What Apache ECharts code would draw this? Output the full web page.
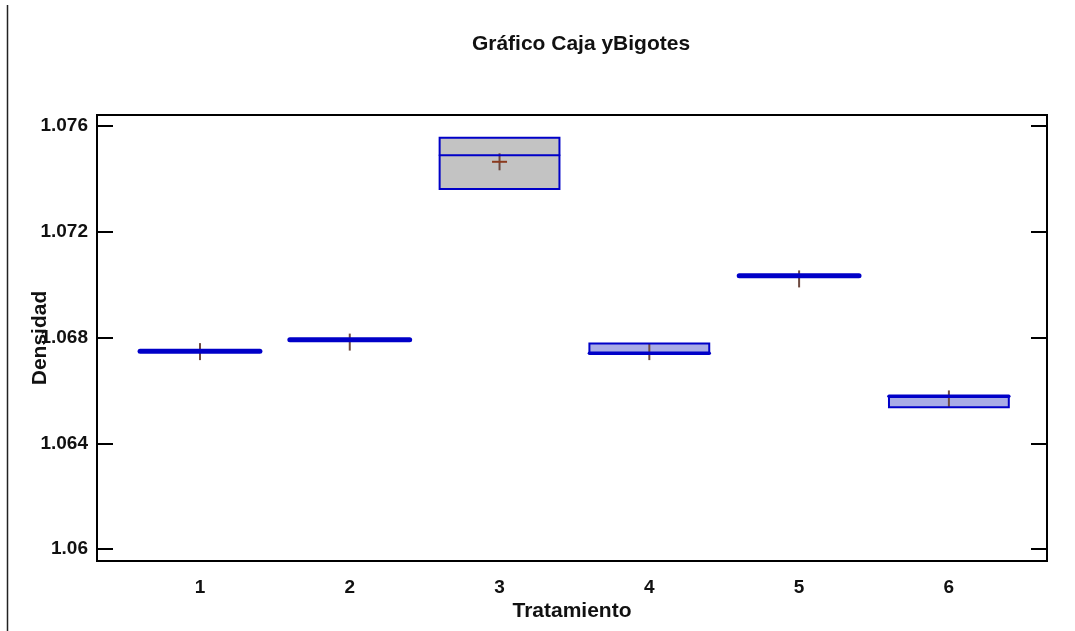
<!DOCTYPE html>
<html>
<head>
<meta charset="utf-8">
<script src="https://cdn.jsdelivr.net/npm/echarts@6/dist/echarts.min.js"></script>
<style>html,body{margin:0;padding:0;background:#fff;}#c{width:1075px;height:631px;}</style>
</head>
<body>
<div id="c"></div>
<script>
// ---- data ----
var categories = [1, 2, 3, 4, 5, 6];
var minValues    = [1.06748, 1.06792, 1.07362, 1.06741, 1.07034, 1.06537];
var q1Values     = [1.06748, 1.06792, 1.07362, 1.06741, 1.07034, 1.06537];
var medianValues = [1.06748, 1.06792, 1.07490, 1.06741, 1.07034, 1.06578];
var q3Values     = [1.06748, 1.06792, 1.07556, 1.06778, 1.07034, 1.06578];
var maxValues    = [1.06748, 1.06792, 1.07556, 1.06778, 1.07034, 1.06578];
var meanValues   = [1.06747, 1.06783, 1.07465, 1.06747, 1.07022, 1.06568];
var yTicks = [1.06, 1.064, 1.068, 1.072, 1.076];
var titleText = 'Gráfico Caja yBigotes';
var xName = 'Tratamiento';
var yName = 'Densidad';

var boxData = categories.map(function (c, i) {
  return [c, minValues[i], q1Values[i], medianValues[i], q3Values[i], maxValues[i], meanValues[i]];
});

var BOX_HALF = 0.4;
var BLUE = '#0000c8';
var FONT = 'Liberation Sans, Arial, sans-serif';

var chart = echarts.init(document.getElementById('c'), null, {renderer: 'canvas'});
chart.setOption({
  animation: false,
  backgroundColor: '#fff',
  title: {
    text: titleText, left: 576, top: 29, textAlign: 'center',
    textStyle: {fontFamily: FONT, fontWeight: 'bold', fontSize: 21, color: '#111'}
  },
  grid: {left: 97, right: 28, top: 115, bottom: 70, show: true, borderColor: '#000', borderWidth: 2, backgroundColor: 'transparent'},
  xAxis: {
    type: 'value', min: 0.3125, max: 6.655,
    name: xName, nameLocation: 'middle', nameGap: 40, nameMoveOverlap: false,
    nameTextStyle: {fontFamily: FONT, fontWeight: 'bold', fontSize: 21, color: '#111'},
    axisLine: {show: true, lineStyle: {color: '#000', width: 2}},
    axisTick: {show: false},
    splitLine: {show: false},
    axisLabel: {customValues: categories, margin: 17, fontFamily: FONT, fontWeight: 'bold', fontSize: 19, color: '#111'}
  },
  yAxis: [{
    type: 'value', min: 1.05955, max: 1.07642,
    name: yName, nameLocation: 'middle', nameGap: 46, nameRotate: 90, nameMoveOverlap: false,
    nameTextStyle: {fontFamily: FONT, fontWeight: 'bold', fontSize: 21, color: '#111'},
    axisLine: {show: true, lineStyle: {color: '#000', width: 2}},
    axisTick: {show: true, inside: true, length: 16, customValues: yTicks, lineStyle: {color: '#000', width: 2}},
    splitLine: {show: false},
    axisLabel: {customValues: yTicks, margin: 9, fontFamily: FONT, fontWeight: 'bold', fontSize: 19, color: '#111',
      formatter: function (v) { return String(+v.toFixed(3)); }}
  }, {
    type: 'value', min: 1.05955, max: 1.07642, position: 'right',
    axisLine: {show: true, lineStyle: {color: '#000', width: 2}},
    axisTick: {show: true, inside: true, length: 16, customValues: yTicks, lineStyle: {color: '#000', width: 2}},
    splitLine: {show: false},
    axisLabel: {show: false}
  }],
  graphic: [{
    type: 'line', shape: {x1: 7.5, y1: 5, x2: 7.5, y2: 631}, style: {stroke: '#222', lineWidth: 1.5}
  }],
  series: [{
    type: 'custom',
    data: boxData,
    renderItem: function (params, api) {
      var x = api.value(0);
      var pL = api.coord([x - BOX_HALF, api.value(2)]);
      var pR = api.coord([x + BOX_HALF, api.value(4)]);
      var pMid = api.coord([x, api.value(3)]);
      var pMin = api.coord([x, api.value(1)]);
      var pMax = api.coord([x, api.value(5)]);
      var pMean = api.coord([x, api.value(6)]);
      var h = pL[1] - pR[1];
      var tall = h > 15;
      var fill = tall ? '#c3c3c3' : '#a9ace6';
      var s = 7.5;
      var children = [{
        type: 'rect',
        shape: {x: pL[0], y: pR[1], width: pR[0] - pL[0], height: Math.max(h, 0.5)},
        style: {fill: fill, stroke: null}
      }, {
        type: 'line', shape: {x1: pMean[0], y1: pMean[1] - s - 1, x2: pMean[0], y2: pMean[1] + s + 1},
        style: {stroke: '#6e4a40', lineWidth: 2}
      }];
      if (tall) children.push({
        type: 'line', shape: {x1: pMean[0] - s, y1: pMean[1], x2: pMean[0] + s, y2: pMean[1]},
        style: {stroke: '#8b3a1e', lineWidth: 2}
      });
      children.push({
        type: 'rect',
        shape: {x: pL[0], y: pR[1], width: pR[0] - pL[0], height: Math.max(h, 0.5)},
        style: {fill: null, stroke: BLUE, lineWidth: 2}
      }, {
        type: 'line',
        shape: {x1: pL[0], y1: pMid[1], x2: pR[0], y2: pMid[1]},
        style: {stroke: BLUE, lineWidth: tall ? 2 : (h < 2 ? 5 : 3.5), lineCap: 'round'}
      });
      if (pMin[1] - pL[1] > 0.5) children.push({type: 'line', shape: {x1: pMid[0], y1: pL[1], x2: pMid[0], y2: pMin[1]}, style: {stroke: BLUE, lineWidth: 2}});
      if (pR[1] - pMax[1] > 0.5) children.push({type: 'line', shape: {x1: pMid[0], y1: pR[1], x2: pMid[0], y2: pMax[1]}, style: {stroke: BLUE, lineWidth: 2}});
      return {type: 'group', children: children};
    }
  }]
});
</script>
</body>
</html>
